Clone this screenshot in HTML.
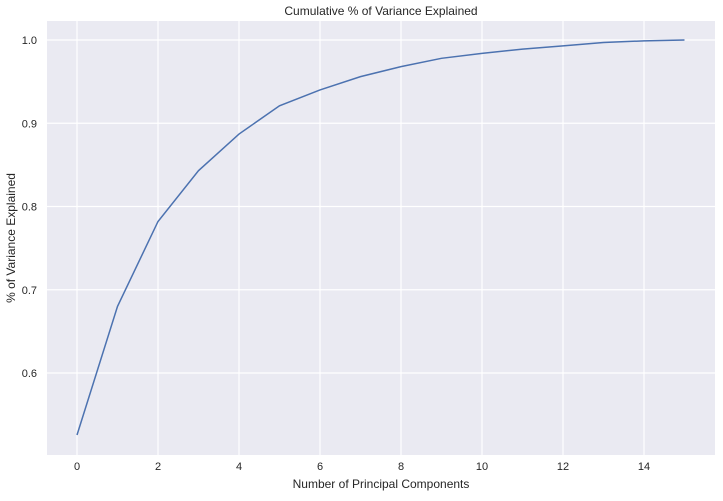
<!DOCTYPE html>
<html><head><meta charset="utf-8"><style>
body{margin:0;background:#fff;font-family:"Liberation Sans",sans-serif}
</style></head><body>
<svg id="c" width="723" height="496" font-family="Liberation Sans, sans-serif"></svg>
<script>
const xTicks=[0,2,4,6,8,10,12,14];
const yTicks=[0.6,0.7,0.8,0.9,1.0];
const yTickLabels=["0.6","0.7","0.8","0.9","1.0"];
const components=[0,1,2,3,4,5,6,7,8,9,10,11,12,13,14,15];
const cumVariance=[0.5255,0.680,0.782,0.843,0.887,0.921,0.940,0.956,0.968,0.978,0.984,0.989,0.993,0.997,0.999,1.0];
const L=47,T=21,R=715,B=455;
const sx=v=>77+v*40.5;
const sy=v=>373-(v-0.6)*832.5;
const svg=document.getElementById('c');
const NS='http://www.w3.org/2000/svg';
function mk(t,a,p){const e=document.createElementNS(NS,t);for(const k in a)e.setAttribute(k,a[k]);(p||svg).appendChild(e);return e;}
const bg=mk('rect',{x:L,y:T,width:R-L,height:B-T,fill:'#eaeaf2'});


xTicks.forEach(v=>{
 const g=mk('line',{x1:sx(v),x2:sx(v),y1:T,y2:B,stroke:'#fff','stroke-width':1.2});
 
 
 const t=mk('text',{x:sx(v),y:B+15,'text-anchor':'middle','font-size':11,fill:'#262626'});
 t.textContent=v;
 
 
});
yTicks.forEach((v,i)=>{
 const g=mk('line',{x1:L,x2:R,y1:sy(v),y2:sy(v),stroke:'#fff','stroke-width':1.2});
 
 
 const t=mk('text',{x:L-10,y:sy(v)+4,'text-anchor':'end','font-size':11,fill:'#262626'});
 t.textContent=yTickLabels[i];
 
 
});
const pts=components.map((c,i)=>sx(c)+','+sy(cumVariance[i])).join(' ');
const ln=mk('polyline',{points:pts,fill:'none',stroke:'#4c72b0','stroke-width':1.5});


const ti=mk('text',{x:(L+R)/2,y:15,'text-anchor':'middle','font-size':12,fill:'#262626'});
ti.textContent='Cumulative % of Variance Explained';


const xl=mk('text',{x:(L+R)/2,y:488,'text-anchor':'middle','font-size':12,fill:'#262626'});
xl.textContent='Number of Principal Components';


const yl=mk('text',{x:15,y:(T+B)/2,'text-anchor':'middle','font-size':12,fill:'#262626',transform:`rotate(-90 15 ${(T+B)/2})`});
yl.textContent='% of Variance Explained';


</script>
</body></html>
